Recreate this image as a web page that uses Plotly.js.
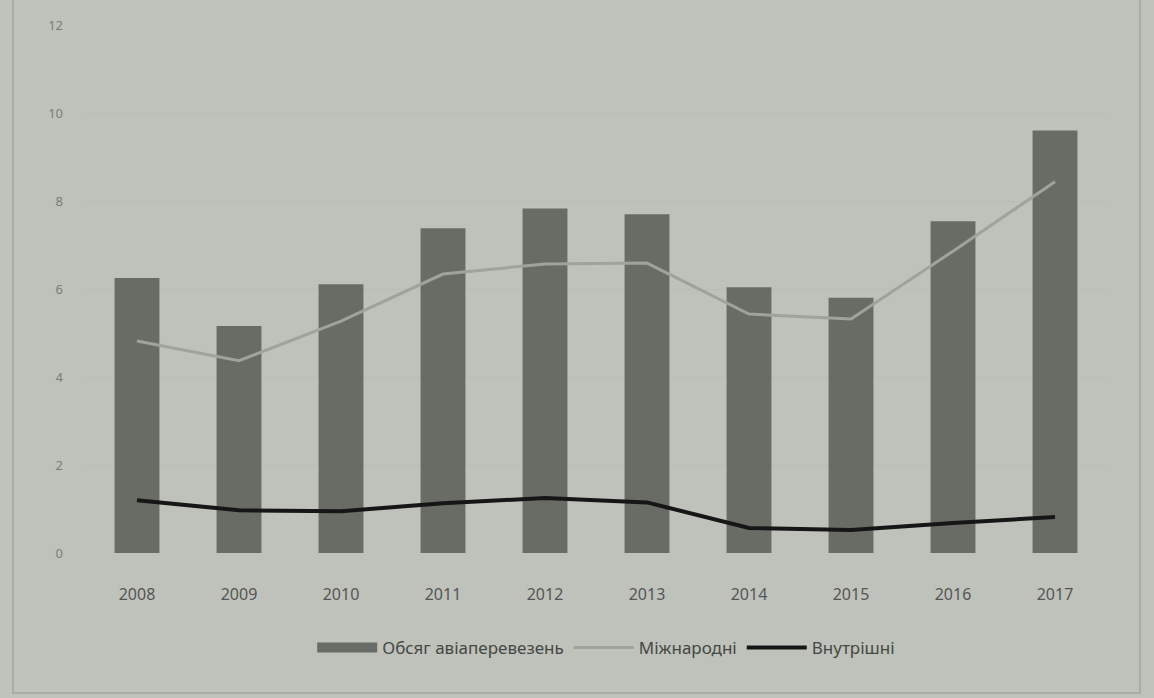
<!DOCTYPE html>
<html>
<head>
<meta charset="utf-8">
<script src="https://cdn.plot.ly/plotly-3.0.1.min.js"></script>
<style>html,body{margin:0;padding:0;background:#bec2ba;}#chart{width:1154px;height:698px;}</style>
</head>
<body>
<div id="chart"></div>
<script>
const years = ['2008','2009','2010','2011','2012','2013','2014','2015','2016','2017'];
const volume = [6.25, 5.16, 6.11, 7.38, 7.83, 7.70, 6.04, 5.80, 7.54, 9.60];
const international = [4.82, 4.37, 5.27, 6.34, 6.57, 6.59, 5.43, 5.32, 6.86, 8.44];
const domestic = [1.20, 0.97, 0.95, 1.13, 1.25, 1.15, 0.57, 0.52, 0.68, 0.82];
const yTicks = [0, 2, 4, 6, 8, 10, 12];
const barColor = '#686c65';

const traces = [
  {type:'bar', name:'Обсяг авіаперевезень', x:years, y:volume,
   marker:{color:barColor}, showlegend:false, legendgroup:'vol'},
  // legend entry for the bars, drawn as a wide block like the original
  {type:'scatter', mode:'lines', name:'Обсяг авіаперевезень', x:[null], y:[null],
   line:{color:barColor, width:12}, legendgroup:'vol', showlegend:true},
  {type:'scatter', mode:'lines', name:'Міжнародні', x:years, y:international,
   line:{color:'#9fa39c', width:3}},
  {type:'scatter', mode:'lines', name:'Внутрішні', x:years, y:domestic,
   line:{color:'#161616', width:4}}
];

const layout = {
  width:1154, height:698,
  paper_bgcolor:'#bec2ba', plot_bgcolor:'#bec2ba',
  margin:{l:86, r:48, t:25, b:145},
  font:{family:'"Noto Sans", "Open Sans", sans-serif', color:'#555'},
  bargap:0.56,
  showlegend:true,
  legend:{orientation:'h', x:0.51, xanchor:'center', y:-0.18, yanchor:'middle',
          font:{size:17, color:'#454845'}, bgcolor:'rgba(0,0,0,0)', itemwidth:60},
  xaxis:{type:'category', tickvals:years, ticktext:years, showgrid:false, zeroline:false, showline:false,
         tickfont:{size:16, color:'#555'}, ticks:'', ticklabelstandoff:30},
  yaxis:{range:[0,12], tickvals:yTicks, ticktext:yTicks.map(String), showgrid:true, gridcolor:'#b8bcb4',
         zeroline:false, showline:false, tickfont:{size:13, color:'#7a7d77'}, ticks:'', ticklabelstandoff:22},
  shapes:[
    {type:'rect', xref:'paper', yref:'paper', x0:-0.0716, x1:1.0333, y0:-0.265, y1:1.1,
     line:{color:'#a9ada6', width:2}, fillcolor:'rgba(0,0,0,0)', layer:'below'}
  ]
};

Plotly.newPlot('chart', traces, layout, {displayModeBar:false, staticPlot:true});
</script>
</body>
</html>
